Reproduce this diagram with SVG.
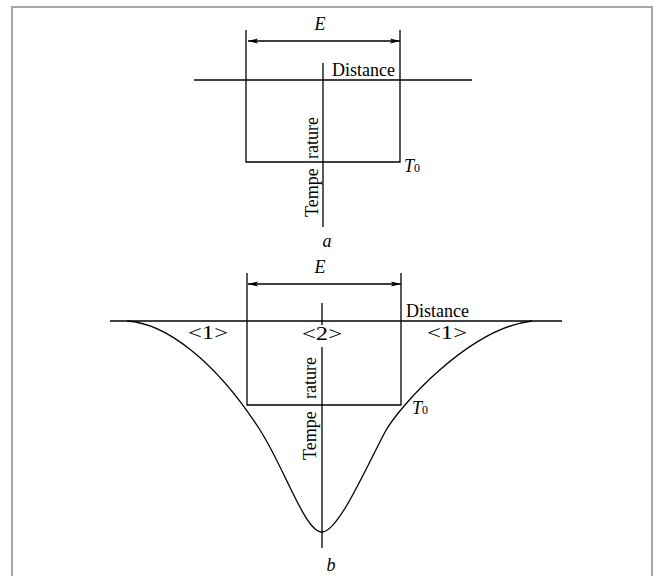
<svg xmlns="http://www.w3.org/2000/svg" width="654" height="576" viewBox="0 0 654 576">
<style>
.ln{stroke:#000;stroke-width:1.3;fill:none}
.t{font-family:"Liberation Serif","Times New Roman","DejaVu Serif",serif;font-size:18px;fill:#000}
.i{font-style:italic}
.sub{font-size:12px}
</style>
<defs>
<marker id="ah" viewBox="0 0 10 6" refX="10" refY="3" markerWidth="10" markerHeight="6" markerUnits="userSpaceOnUse" orient="auto-start-reverse">
<path d="M0,0.6 L10,3 L0,5.4 L2,3 z" fill="#000"/>
</marker>
</defs>
<rect x="12" y="7" width="640" height="620" fill="#fff" stroke="#a6a6a6" stroke-width="2"/>
<g id="connectors">
<line class="ln" x1="248" y1="41" x2="400" y2="41" marker-start="url(#ah)" marker-end="url(#ah)"/>
<line class="ln" x1="248" y1="284" x2="401" y2="284" marker-start="url(#ah)" marker-end="url(#ah)"/>
</g>
<g id="figure-a">
<line class="ln" x1="194" y1="80" x2="472" y2="80"/>
<polyline class="ln" points="246,30 246,162 400,162 400,30"/>
<line class="ln" x1="323" y1="63" x2="323" y2="227"/>
<text class="t i" x="320" y="30" text-anchor="middle">E</text>
<text class="t" x="332" y="76">Distance</text>
<text class="t" transform="translate(318,217) rotate(-90)">Tempe</text>
<text class="t" transform="translate(318,117) rotate(-90)" text-anchor="end">rature</text>
<text class="t" x="404" y="172"><tspan class="i">T</tspan><tspan class="sub">0</tspan></text>
<text class="t i" x="327" y="247" text-anchor="middle">a</text>
</g>
<g id="figure-b">
<line class="ln" x1="110" y1="321" x2="562" y2="321"/>
<polyline class="ln" points="247,273 247,405 401,405 401,273"/>
<line class="ln" x1="322" y1="303" x2="322" y2="325"/>
<line class="ln" x1="322" y1="347" x2="322" y2="548"/>
<path class="ln" d="M127,321 C165,323 215,360 260,430 C285,469 305,532 322,532 C338,532 365,470 385,432 C400,405 470,328 532,321"/>
<text class="t i" x="320" y="273" text-anchor="middle">E</text>
<text class="t" x="406" y="317">Distance</text>
<text class="t" x="188" y="339" textLength="40" lengthAdjust="spacingAndGlyphs">&lt;1&gt;</text>
<text class="t" x="302" y="340" textLength="40" lengthAdjust="spacingAndGlyphs">&lt;2&gt;</text>
<text class="t" x="427" y="339" textLength="40" lengthAdjust="spacingAndGlyphs">&lt;1&gt;</text>
<text class="t" transform="translate(316,460) rotate(-90)">Tempe</text>
<text class="t" transform="translate(316,357) rotate(-90)" text-anchor="end">rature</text>
<text class="t" x="412" y="414"><tspan class="i">T</tspan><tspan class="sub">0</tspan></text>
<text class="t i" x="331" y="571" text-anchor="middle">b</text>
</g>
</svg>
